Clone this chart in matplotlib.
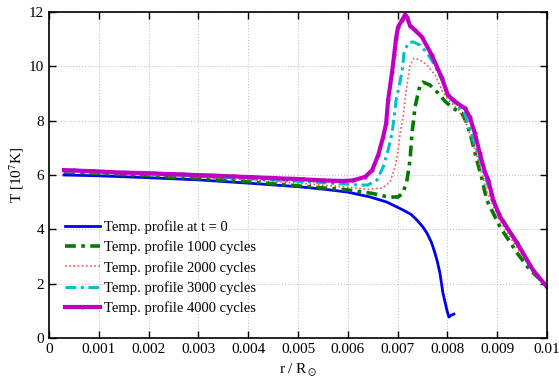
import numpy as np
import matplotlib
matplotlib.use('Agg')
import matplotlib.pyplot as plt

plt.rcParams['font.family'] = ['Liberation Serif', 'DejaVu Serif']
plt.rcParams['mathtext.fontset'] = 'stix'

# radius r / R_sun and temperature T [1e7 K] for each profile
r0 = [0.0003, 0.001, 0.002, 0.003, 0.004, 0.005, 0.0055, 0.006, 0.00645, 0.00679, 0.00711,
      0.00727, 0.00739, 0.00751, 0.00759, 0.00768, 0.00775, 0.0078, 0.00785, 0.00791,
      0.00799, 0.00803, 0.00807, 0.00813]
T0 = [6.0, 5.97, 5.9, 5.82, 5.7, 5.57, 5.48, 5.37, 5.19, 5.0, 4.71,
      4.55, 4.34, 4.08, 3.86, 3.52, 3.13, 2.8, 2.39, 1.66,
      1.03, 0.77, 0.83, 0.88]

r1 = [0.0003, 0.001, 0.002, 0.003, 0.004, 0.005, 0.006, 0.0065, 0.00681, 0.00701, 0.00711,
      0.00719, 0.00725, 0.00729, 0.00735, 0.00739, 0.00745, 0.00751, 0.00765, 0.00781,
      0.00795, 0.00811, 0.00829, 0.00839, 0.00849, 0.00859, 0.00869, 0.00879, 0.00906,
      0.0094, 0.00966, 0.01]
T1 = [6.1, 6.05, 5.97, 5.87, 5.75, 5.6, 5.45, 5.32, 5.19, 5.19, 5.34,
      5.82, 6.55, 7.55, 8.5, 8.83, 9.31, 9.42, 9.31, 9.02,
      8.72, 8.46, 8.28, 7.91, 7.29, 6.55, 5.89, 5.08, 4.08,
      3.13, 2.5, 1.92]

r2 = [0.0003, 0.001, 0.002, 0.003, 0.004, 0.005, 0.006, 0.0064, 0.00669, 0.00685, 0.00695,
      0.00701, 0.00705, 0.00711, 0.00715, 0.00721, 0.00725, 0.00733, 0.00745, 0.00759,
      0.00775, 0.00791, 0.00805, 0.00821, 0.00839, 0.00859, 0.00879, 0.00906, 0.0094,
      0.00972, 0.01]
T2 = [6.13, 6.08, 6.0, 5.92, 5.82, 5.7, 5.55, 5.47, 5.52, 5.74, 6.3,
      6.92, 7.55, 8.13, 8.8, 9.57, 10.05, 10.3, 10.23, 10.05,
      9.68, 9.05, 8.7, 8.42, 7.85, 6.7, 5.4, 4.3, 3.3,
      2.45, 1.9]

r3 = [0.0003, 0.001, 0.002, 0.003, 0.004, 0.005, 0.0055, 0.006, 0.0062, 0.0064, 0.00659,
      0.00671, 0.00681, 0.00689, 0.00693, 0.00697, 0.00701, 0.00709, 0.00713, 0.00721,
      0.00731, 0.00745, 0.00759, 0.00771, 0.00789, 0.00805, 0.00835, 0.00865, 0.00892,
      0.0094, 0.00972, 0.01]
T3 = [6.15, 6.1, 6.04, 5.96, 5.87, 5.77, 5.72, 5.66, 5.63, 5.63, 5.82,
      6.3, 6.92, 7.55, 8.13, 8.76, 9.1, 9.8, 10.5, 10.86,
      10.9, 10.78, 10.5, 10.15, 9.5, 8.85, 8.25, 6.6, 5.0,
      3.45, 2.45, 1.88]

r4 = [0.0003, 0.0005, 0.0007, 0.0009, 0.0011, 0.0013, 0.0015, 0.0017, 0.0019, 0.0021,
      0.0023, 0.0025, 0.0027, 0.0029, 0.0031, 0.0033, 0.0035, 0.0037, 0.0039, 0.0041,
      0.0043, 0.0045, 0.0047, 0.0049, 0.0051, 0.0053, 0.0055, 0.0057, 0.0059, 0.0061,
      0.00635, 0.00649, 0.00661, 0.00671, 0.00677, 0.00681, 0.00689, 0.00693, 0.00697,
      0.00701, 0.00709, 0.00715, 0.00719, 0.00725, 0.00735, 0.00749, 0.00769, 0.00789,
      0.00801, 0.00819, 0.00835, 0.00845, 0.00855, 0.00865, 0.00876, 0.00882, 0.00892,
      0.00906, 0.0094, 0.00972, 0.01]
T4 = [6.18, 6.17, 6.15, 6.14, 6.12, 6.1, 6.09, 6.08, 6.07, 6.06,
      6.04, 6.03, 6.02, 6.0, 5.99, 5.98, 5.96, 5.95, 5.93, 5.92,
      5.9, 5.89, 5.87, 5.86, 5.84, 5.82, 5.8, 5.79, 5.78, 5.8,
      5.93, 6.18, 6.73, 7.4, 7.9, 8.76, 9.8, 10.4, 11.04,
      11.45, 11.7, 11.9, 11.8, 11.5, 11.33, 11.08, 10.4, 9.57,
      8.94, 8.65, 8.46, 8.13, 7.55, 6.8, 6.07, 5.82, 5.08,
      4.45, 3.5, 2.5, 1.88]

labels = ['Temp. profile at t = 0', 'Temp. profile 1000 cycles', 'Temp. profile 2000 cycles',
          'Temp. profile 3000 cycles', 'Temp. profile 4000 cycles']

fig = plt.figure(figsize=(5.59, 3.81), dpi=100)
ax = fig.add_axes([0.0877, 0.1129, 0.8908, 0.8556])

ax.plot(r0, T0, color='#0000f0', lw=2, label=labels[0])
ax.plot(r1, T1, color='#007a00', lw=2.6, ls=(0, (3, 1.5, 1, 1.5)), label=labels[1])
ax.plot(r2, T2, color='#ff5050', lw=1.2, ls=(0, (1, 1.5)), label=labels[2])
ax.plot(r3, T3, color='#00c0c8', lw=2.2, ls=(0, (3.5, 1.5, 1, 1.5)), label=labels[3])
ax.plot(r4, T4, color='#c000c0', lw=3, marker='o', ms=2, label=labels[4])

ax.set_xlim(0, 0.01)
ax.set_ylim(0, 12)
xt = np.arange(0, 0.0105, 0.001)
ax.set_xticks(xt)
ax.set_xticklabels(['0'] + ['%.3f' % v for v in xt[1:-1]] + ['0.01'])
ax.set_yticks(range(0, 13, 2))
ax.tick_params(direction='in', top=True, right=True, labelsize=11, length=5, width=1)
ax.grid(True, ls=':', color='#c4c4c4', lw=0.8)
for s in ax.spines.values():
    s.set_linewidth(1.2)

ax.set_xlabel(r'r / R$_\odot$', fontsize=11)
ax.set_ylabel(r'T [10$^7$K]', fontsize=11, labelpad=2)

ax.legend(loc='lower left', bbox_to_anchor=(0.02, 0.052), frameon=False, fontsize=10.5,
          handlelength=2.4, labelspacing=0.45, handletextpad=0.3, borderaxespad=0)

fig.savefig('out.png', dpi=100)
